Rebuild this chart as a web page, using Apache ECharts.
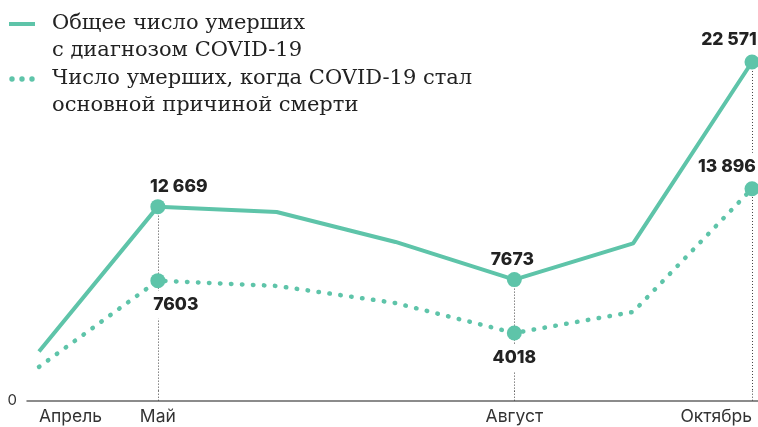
<!DOCTYPE html>
<html>
<head>
<meta charset="utf-8">
<script src="https://cdn.jsdelivr.net/npm/echarts@6/dist/echarts.min.js"></script>
<style>
  html, body { margin: 0; padding: 0; background: #fff; }
  #chart { width: 758px; height: 427px; }
</style>
</head>
<body>
<div id="chart"></div>
<script>
const months = ['Апрель', 'Май', 'Июнь', 'Июль', 'Август', 'Сентябрь', 'Октябрь']
const totalDeaths = [2750, 12669, 12300, 10250, 7673, 10150, 22571]
const mainCause = [1700, 7603, 7240, 6070, 4018, 5460, 13896]
const shownMonths = [0, 1, 4, 6]
const markedMonths = [1, 4, 6]

const TEAL = '#5ec4a9'
const INK = '#222'

const totalName = 'Общее число умерших\nс диагнозом COVID-19'
const mainName = 'Число умерших, когда COVID-19 стал\nосновной причиной смерти'

// label offsets around the big dots
const totalOffsets = { 1: [21, -20], 4: [-2, -20], 6: [-23, -22] }
const mainOffsets = { 1: [18, 24], 4: [0, 25], 6: [-25, -22] }

const fmt = v => v >= 10000 ? String(v).replace(/(\d+)(\d{3})$/, '$1 $2') : String(v)

const buildData = (values, offsets) => values.map((v, i) => {
    let item = { value: [i, v] }
    if (offsets[i]) {
        item.symbolSize = 15
        item.label = {
            show: true,
            position: 'inside',
            offset: offsets[i],
            formatter: fmt(v),
        }
    }
    return item
})

const dropLines = markedMonths.map(i => [
    { coord: [i, totalDeaths[i]] },
    { coord: [i, 0] }
])

const labelStyle = {
    color: INK,
    fontFamily: 'Inter',
    fontWeight: 800,
    fontSize: 17.5,
}

let chart = echarts.init(document.getElementById('chart'))

chart.setOption({
    animation: false,
    grid: { left: 27, right: 0, top: 26.5, bottom: 35.3 },
    legend: {
        orient: 'vertical',
        left: 9,
        top: 10.5,
        padding: 0,
        itemWidth: 26,
        itemHeight: 54,
        itemGap: 1,
        selectedMode: false,
        itemStyle: { color: TEAL, borderWidth: 0 },
        textStyle: {
            fontFamily: 'DejaVu Serif',
            fontSize: 21,
            lineHeight: 27,
            color: INK,
            padding: [0, 0, 0, 12],
        },
        data: [{
            name: totalName,
            icon: 'path://M0,0h0.01v0.01h-0.01Z M0,11.5H26V15.5H0Z M0,53.99h0.01v0.01h-0.01Z'
        }, {
            name: mainName,
            icon: 'path://M0,0h0.01v0.01h-0.01Z M25.99,53.99h0.01v0.01h-0.01Z M0.3,13.5a2.7,2.7 0 1,0 5.4,0a2.7,2.7 0 1,0 -5.4,0Z M10.3,13.5a2.7,2.7 0 1,0 5.4,0a2.7,2.7 0 1,0 -5.4,0Z M20.3,13.5a2.7,2.7 0 1,0 5.4,0a2.7,2.7 0 1,0 -5.4,0Z'
        }]
    },
    xAxis: {
        type: 'value',
        min: -0.101,
        max: 6.0505,
        offset: 9,
        splitLine: { show: false },
        axisLine: { show: true, onZero: false, lineStyle: { color: '#666', width: 1.5 } },
        axisTick: {
            show: true,
            inside: true,
            length: 10,
            customValues: markedMonths,
            lineStyle: { color: '#444', width: 1, type: [1, 2] }
        },
        axisLabel: {
            customValues: shownMonths,
            formatter: v => months[Math.round(v)],
            alignMinLabel: 'left',
            alignMaxLabel: 'right',
            color: '#333',
            fontFamily: 'Inter',
            fontSize: 17.5,
            margin: 7,
        }
    },
    yAxis: {
        type: 'value',
        min: 0,
        max: 25000,
        interval: 25000,
        splitLine: { show: false },
        axisLine: { show: false },
        axisTick: { show: false },
        axisLabel: {
            formatter: v => v === 0 ? '0' : '',
            color: '#333',
            fontFamily: 'Inter',
            fontSize: 15,
            margin: 10,
            verticalAlign: 'top',
            lineHeight: 18,
        }
    },
    series: [{
        name: totalName,
        type: 'line',
        z: 3,
        symbol: 'circle',
        symbolSize: 0,
        showAllSymbol: true,
        itemStyle: { color: TEAL },
        lineStyle: { color: TEAL, width: 4 },
        label: Object.assign({ show: false }, labelStyle),
        data: buildData(totalDeaths, totalOffsets),
        markLine: {
            silent: true,
            z: 1,
            symbol: ['none', 'none'],
            label: { show: false },
            lineStyle: { color: '#444', width: 1, type: [1, 2] },
            data: dropLines
        }
    }, {
        name: mainName,
        type: 'line',
        z: 3,
        symbol: 'circle',
        symbolSize: 0,
        showAllSymbol: true,
        itemStyle: { color: TEAL },
        lineStyle: { color: TEAL, width: 4.5, type: [0.5, 10.5], cap: 'round' },
        // white box hides the drop line behind these labels
        label: Object.assign({ show: false, backgroundColor: '#fff', padding: [5, 2] }, labelStyle),
        data: buildData(mainCause, mainOffsets),
    }]
})
</script>
</body>
</html>
